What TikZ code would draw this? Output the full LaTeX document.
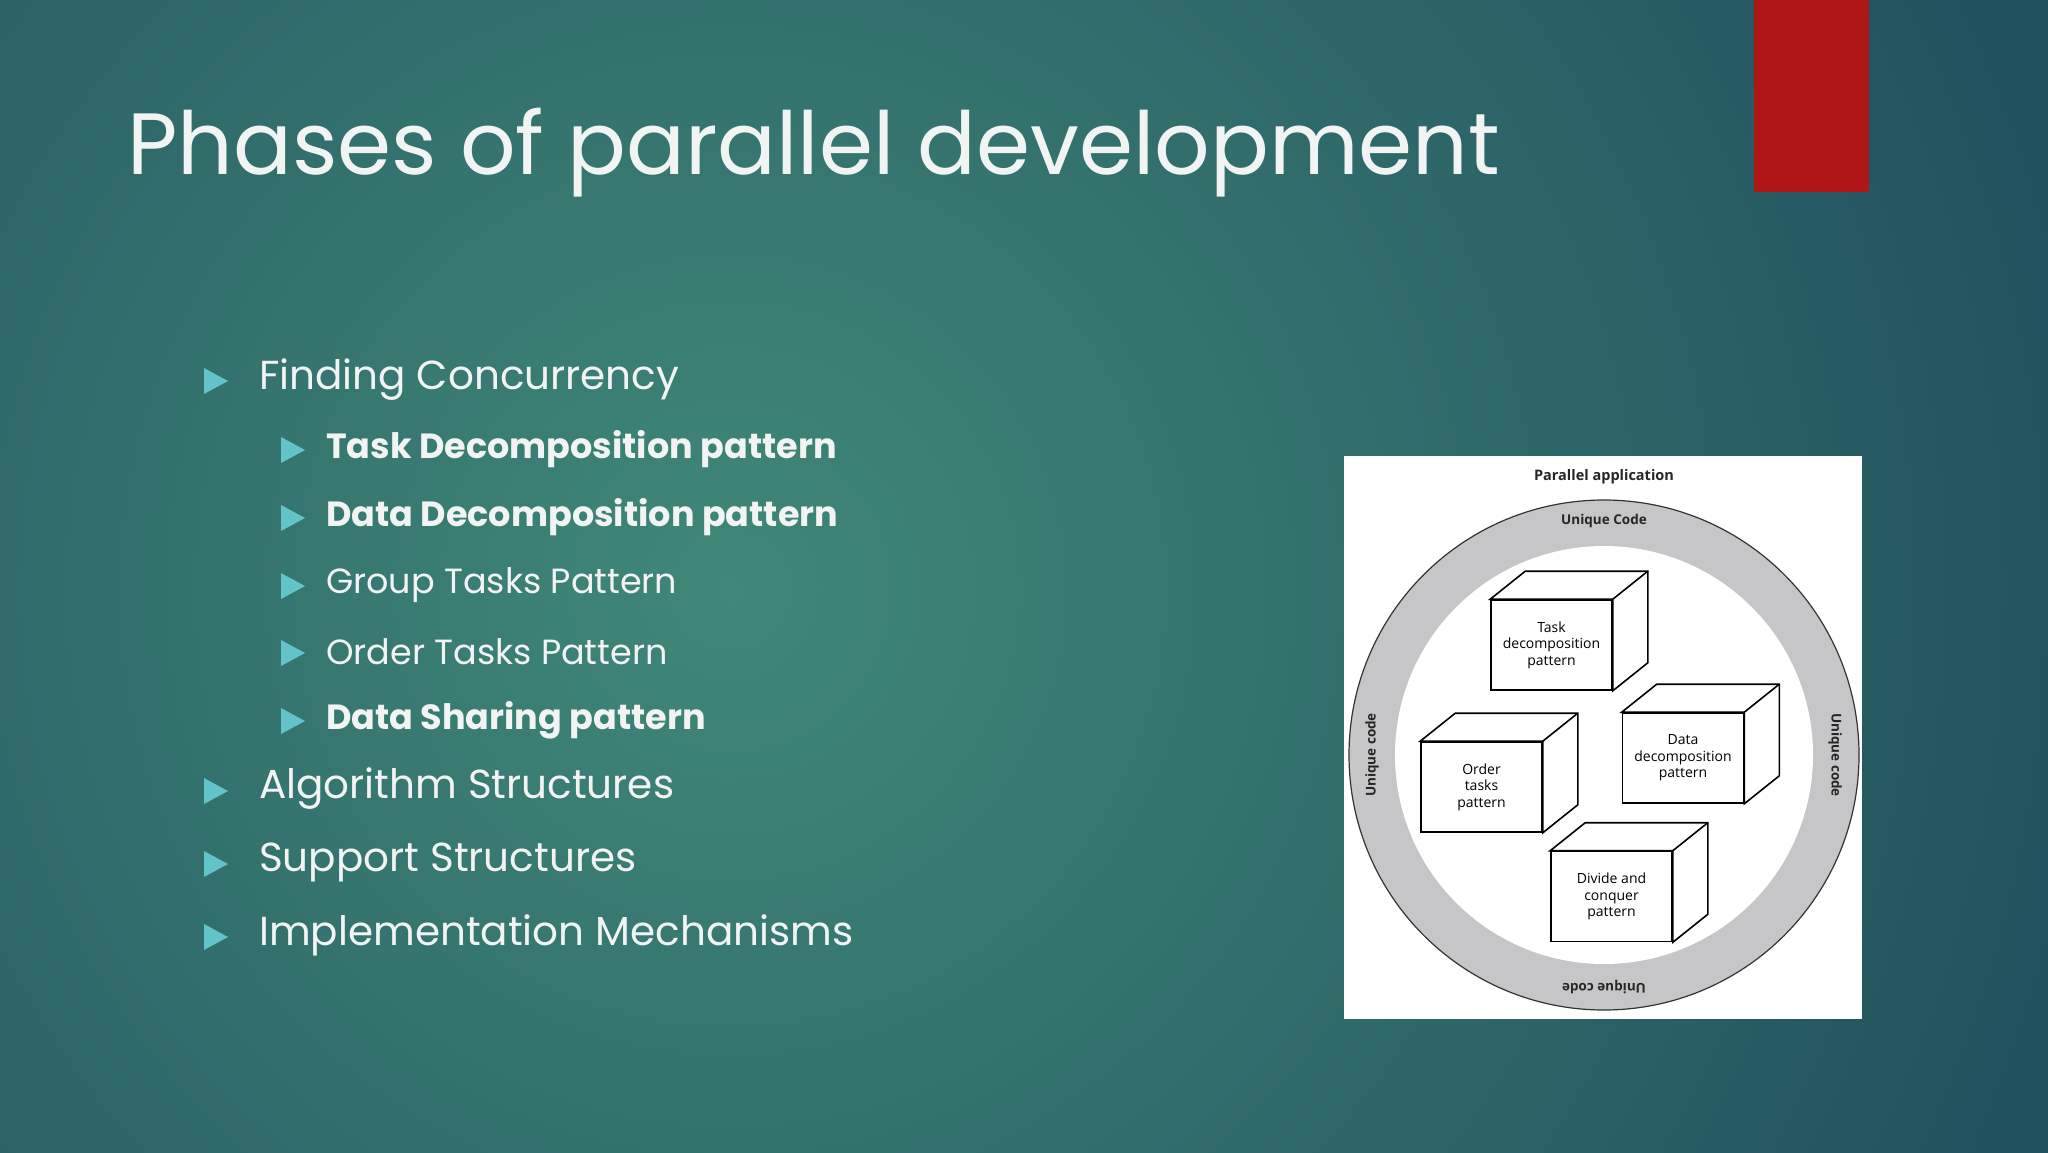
\documentclass[tikz,border=0pt]{standalone}
\usepackage{fontspec}
\setmainfont{Poppins}
\newfontfamily\diagfont{Open Sans}
\definecolor{bgdark}{HTML}{1A4458}
\definecolor{bglight}{HTML}{408878}
\definecolor{bul}{HTML}{62C4C8}
\definecolor{txt}{HTML}{F2F4F4}
\definecolor{ringgray}{HTML}{C6C6C8}
\definecolor{slidered}{HTML}{AE1618}
\tikzset{
  lvlone/.style={anchor=west,inner sep=0pt,text=txt,font=\fontsize{40.5}{46}\selectfont},
  lvltwo/.style={anchor=west,inner sep=0pt,text=txt,font=\fontsize{35}{40}\selectfont},
  lvltwob/.style={lvltwo,font=\fontsize{35}{40}\selectfont\bfseries},
  tri/.style={fill=bul,draw=none},
  cube/.style={draw=black,line width=1.6pt,fill=white,minimum width=121pt,minimum height=90pt,inner sep=0pt,align=center,font=\diagfont\fontsize{14}{16.5}\selectfont},
  face/.style={draw=black,line width=1.6pt,fill=white,line join=miter},
  ringtxt/.style={font=\diagfont\bfseries\fontsize{13.5}{15}\selectfont,text=black!85}
}
\newcommand{\bulletat}[2]{\fill[tri] (#1,#2-13) -- (#1+24,#2) -- (#1,#2+13) -- cycle;}
\newcommand{\cubeside}[1]{%
  \draw[face] (#1.north west) -- ++(35,-28) -| ([xshift=35,yshift=28]#1.south east) -- (#1.south east) -- (#1.north east) -- cycle;
  \draw[face] (#1.north east) -- ++(35,-28);}
\begin{document}
\begin{tikzpicture}[x=1pt,y=-1pt]
\useasboundingbox (0,0) rectangle (2048,1152);
\fill[bgdark] (0,0) rectangle (2048,1152);
\begin{scope}
\clip (0,0) rectangle (2048,1152);
\shade[inner color=bglight,outer color=bgdark] (730,590) circle (1700);
\end{scope}
\fill[slidered] (1754,0) rectangle (1869,192);
\node[anchor=base west,text=txt,font=\fontsize{87}{96}\selectfont,inner sep=0pt] (title) at (127,174) {Phases of parallel development};
% bullets
\bulletat{204}{381}\node[lvlone] (b1) at (259,380) {Finding Concurrency};
\bulletat{281}{450}\node[lvltwob] (b2) at (326,449) {Task Decomposition pattern};
\bulletat{281}{518}\node[lvltwob] (b3) at (326,517) {Data Decomposition pattern};
\bulletat{281}{586}\node[lvltwo] (b4) at (326,585) {Group Tasks Pattern};
\bulletat{281}{653}\node[lvltwo] (b5) at (326,652) {Order Tasks Pattern};
\bulletat{281}{721}\node[lvltwob] (b6) at (326,720) {Data Sharing pattern};
\bulletat{204}{791}\node[lvlone] (b7) at (259,789) {Algorithm Structures};
\bulletat{204}{864}\node[lvlone] (b8) at (259,862) {Support Structures};
\bulletat{204}{937}\node[lvlone] (b9) at (259,935) {Implementation Mechanisms};
% diagram
\fill[white] (1344,456) rectangle (1862,1019);
\fill[ringgray,draw=black!80,line width=1.2pt] (1604,755) circle (255);
\fill[white] (1604,755) circle (209);
\node[ringtxt,font=\diagfont\bfseries\fontsize{14.5}{16}\selectfont] (pa) at (1604,477) {Parallel application};
\node[ringtxt] (ut) at (1604,521) {Unique Code};
\node[ringtxt,rotate=180] (ub) at (1604,987) {Unique code};
\node[ringtxt,rotate=90] (ul) at (1372,755) {Unique code};
\node[ringtxt,rotate=-90] (ur) at (1835,755) {Unique code};
\node[cube] (task) at (1551.5,645) {Task\\decomposition\\pattern};
\cubeside{task}
\node[cube] (order) at (1481.5,787) {Order\\tasks\\pattern};
\cubeside{order}
\node[cube] (data) at (1683,758) {Data\\decomposition\\pattern};
\cubeside{data}
\node[cube] (divide) at (1611.5,896.5) {Divide and\\conquer\\pattern};
\cubeside{divide}
\end{tikzpicture}
\end{document}
